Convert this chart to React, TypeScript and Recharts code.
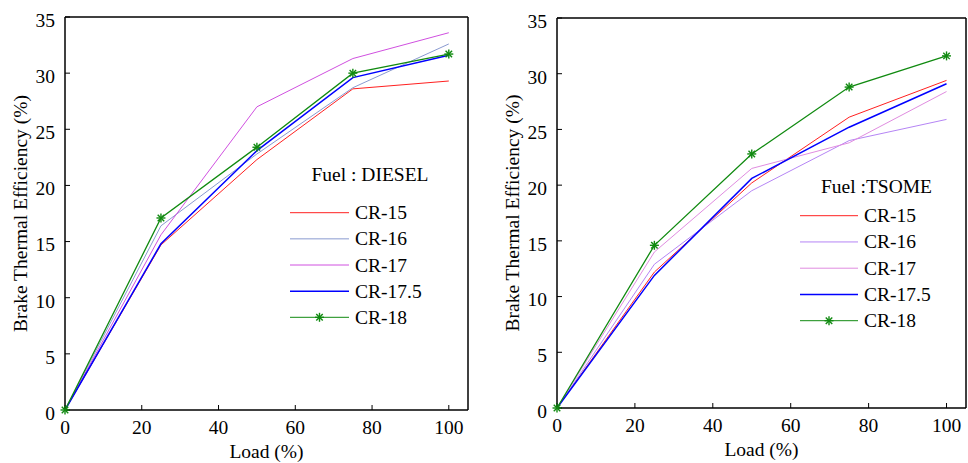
import React from 'react';
import { LineChart, Line, XAxis, YAxis, Legend, Label } from 'recharts';

// shared axes / categories
const loads = [0, 25, 50, 75, 100];
const seriesNames = ['CR-15', 'CR-16', 'CR-17', 'CR-17.5', 'CR-18'];
const xTicks = [0, 20, 40, 60, 80, 100];
const yTicks = [0, 5, 10, 15, 20, 25, 30, 35];

// Fuel : DIESEL (left panel), brake thermal efficiency %
const dieselCR15 = [0, 14.7, 22.3, 28.6, 29.3];
const dieselCR16 = [0, 16.4, 22.8, 28.7, 32.6];
const dieselCR17 = [0, 15.6, 27.0, 31.3, 33.6];
const dieselCR175 = [0, 14.8, 23.1, 29.6, 31.6];
const dieselCR18 = [0, 17.1, 23.4, 30.0, 31.7];

// Fuel : TSOME (right panel)
const tsomeCR15 = [0, 12.2, 20.2, 26.1, 29.4];
const tsomeCR16 = [0, 12.9, 19.5, 24.0, 25.9];
const tsomeCR17 = [0, 14.0, 21.5, 23.8, 28.4];
const tsomeCR175 = [0, 11.9, 20.6, 25.2, 29.1];
const tsomeCR18 = [0, 14.6, 22.8, 28.8, 31.6];

const dieselColors = ['#ff2020', '#8a9ad0', '#d050e0', '#0000ff', '#108a10'];
const tsomeColors = ['#ff2020', '#b585f5', '#e08ce0', '#0000ff', '#108a10'];

const FONT = '"Liberation Serif", "Times New Roman", Times, serif';
const FS = 19.5;
const W = 484;
const H = 463;

function buildRows(cols: number[][]) {
  return loads.map((load, i) => {
    const row: Record<string, number> = { load };
    seriesNames.forEach((n, j) => {
      row[n] = cols[j][i];
    });
    return row;
  });
}

const dieselData = buildRows([dieselCR15, dieselCR16, dieselCR17, dieselCR175, dieselCR18]);
const tsomeData = buildRows([tsomeCR15, tsomeCR16, tsomeCR17, tsomeCR175, tsomeCR18]);

function StarDot(props: any) {
  const { cx, cy, stroke, index } = props;
  if (cx == null || cy == null) return <g key={`s-${index}`} />;
  const r = 4.5;
  const d = r * 0.72;
  return (
    <g key={`s-${index}`} stroke={stroke} strokeWidth={1.4}>
      <line x1={cx - r} y1={cy} x2={cx + r} y2={cy} />
      <line x1={cx} y1={cy - r} x2={cx} y2={cy + r} />
      <line x1={cx - d} y1={cy - d} x2={cx + d} y2={cy + d} />
      <line x1={cx - d} y1={cy + d} x2={cx + d} y2={cy - d} />
    </g>
  );
}

interface KeySpec {
  title: string;
  titleX: number;
  titleY: number;
  x1: number;
  x2: number;
  textX: number;
  y0: number;
  step: number;
}

function KeyBox({ spec, colors }: { spec: KeySpec; colors: string[] }) {
  return (
    <svg width={W} height={H} style={{ position: 'absolute', left: 0, top: 0, overflow: 'visible' }}>
      <text x={spec.titleX} y={spec.titleY + 6.5} textAnchor="middle" fontFamily={FONT} fontSize={FS} fill="#000">
        {spec.title}
      </text>
      {seriesNames.map((n, i) => {
        const y = spec.y0 + i * spec.step;
        return (
          <g key={n}>
            <line x1={spec.x1} x2={spec.x2} y1={y} y2={y} stroke={colors[i]} strokeWidth={i === 3 ? 1.5 : 1} />
            {i === 4 && <StarDot cx={(spec.x1 + spec.x2) / 2} cy={y} stroke={colors[i]} index={99} />}
            <text x={spec.textX} y={y + 6.5} fontFamily={FONT} fontSize={FS} fill="#000">
              {n}
            </text>
          </g>
        );
      })}
    </svg>
  );
}

function XTitle(props: any) {
  const vb = props.viewBox;
  return (
    <text x={vb.x + vb.width / 2} y={vb.y + 48} textAnchor="middle" fontFamily={FONT} fontSize={FS} fill="#000">
      Load (%)
    </text>
  );
}

function YTitle(props: any) {
  const vb = props.viewBox;
  const cx = vb.x + vb.width - 45;
  const cy = vb.y + vb.height / 2;
  return (
    <text
      x={cx}
      y={cy + 6.5}
      transform={`rotate(-90 ${cx} ${cy})`}
      textAnchor="middle"
      fontFamily={FONT}
      fontSize={FS}
      fill="#000"
    >
      Brake Thermal Efficiency (%)
    </text>
  );
}

interface PanelProps {
  data: Array<Record<string, number>>;
  colors: string[];
  margin: { top: number; right: number; bottom: number; left: number };
  spec: KeySpec;
}

const axisStroke = { stroke: '#000', strokeWidth: 1.5 };
const tickFont = { fill: '#000', fontSize: FS, fontFamily: FONT };

function Panel({ data, colors, margin, spec }: PanelProps) {
  return (
    <LineChart width={W} height={H} data={data} margin={margin}>
      <XAxis
        xAxisId="b"
        dataKey="load"
        type="number"
        domain={[0, 105]}
        ticks={xTicks}
        interval={0}
        height={1}
        tickSize={-5}
        tickMargin={15}
        axisLine={axisStroke}
        tickLine={{ stroke: '#000' }}
        tick={tickFont}
      >
        <Label content={XTitle} />
      </XAxis>
      <XAxis
        xAxisId="t"
        orientation="top"
        dataKey="load"
        type="number"
        domain={[0, 105]}
        ticks={xTicks}
        interval={0}
        height={1}
        tickSize={-5}
        axisLine={axisStroke}
        tickLine={{ stroke: '#000' }}
        tick={false}
      />
      <YAxis
        yAxisId="l"
        type="number"
        domain={[0, 35]}
        ticks={yTicks}
        interval={0}
        width={1}
        tickSize={-5}
        tickMargin={15}
        axisLine={axisStroke}
        tickLine={{ stroke: '#000' }}
        tick={{ ...tickFont, dy: 3 }}
      >
        <Label content={YTitle} />
      </YAxis>
      <YAxis
        yAxisId="r"
        orientation="right"
        type="number"
        domain={[0, 35]}
        ticks={yTicks}
        interval={0}
        width={1}
        tickSize={-5}
        axisLine={axisStroke}
        tickLine={{ stroke: '#000' }}
        tick={false}
      />
      <Legend
        layout="vertical"
        align="center"
        verticalAlign="middle"
        wrapperStyle={{ position: 'absolute', left: 0, top: 0, width: W, height: H, pointerEvents: 'none' }}
        content={() => <KeyBox spec={spec} colors={colors} />}
      />
      {seriesNames.map((n, i) => (
        <Line
          key={n}
          xAxisId="b"
          yAxisId="l"
          type="linear"
          dataKey={n}
          stroke={colors[i]}
          strokeWidth={i === 3 ? 1.5 : i === 4 ? 1.3 : 1}
          dot={i === 4 ? StarDot : false}
          activeDot={false}
          isAnimationActive={false}
        />
      ))}
    </LineChart>
  );
}

const dieselKey: KeySpec = {
  title: 'Fuel : DIESEL',
  titleX: 370,
  titleY: 174,
  x1: 290,
  x2: 349,
  textX: 355,
  y0: 212.7,
  step: 26.15,
};

const tsomeKey: KeySpec = {
  title: 'Fuel :TSOME',
  titleX: 392.5,
  titleY: 186.7,
  x1: 316,
  x2: 374,
  textX: 380,
  y0: 215.7,
  step: 26.25,
};

export default function App() {
  return (
    <div style={{ position: 'absolute', left: 0, top: 0, width: 968, height: H, background: '#fff' }}>
      <div style={{ position: 'absolute', left: 0, top: 0 }}>
        <Panel
          data={dieselData}
          colors={dieselColors}
          margin={{ top: 16, right: 15, bottom: 52, left: 64 }}
          spec={dieselKey}
        />
      </div>
      <div style={{ position: 'absolute', left: W, top: 0 }}>
        <Panel
          data={tsomeData}
          colors={tsomeColors}
          margin={{ top: 17, right: 1, bottom: 54, left: 72 }}
          spec={tsomeKey}
        />
      </div>
    </div>
  );
}
